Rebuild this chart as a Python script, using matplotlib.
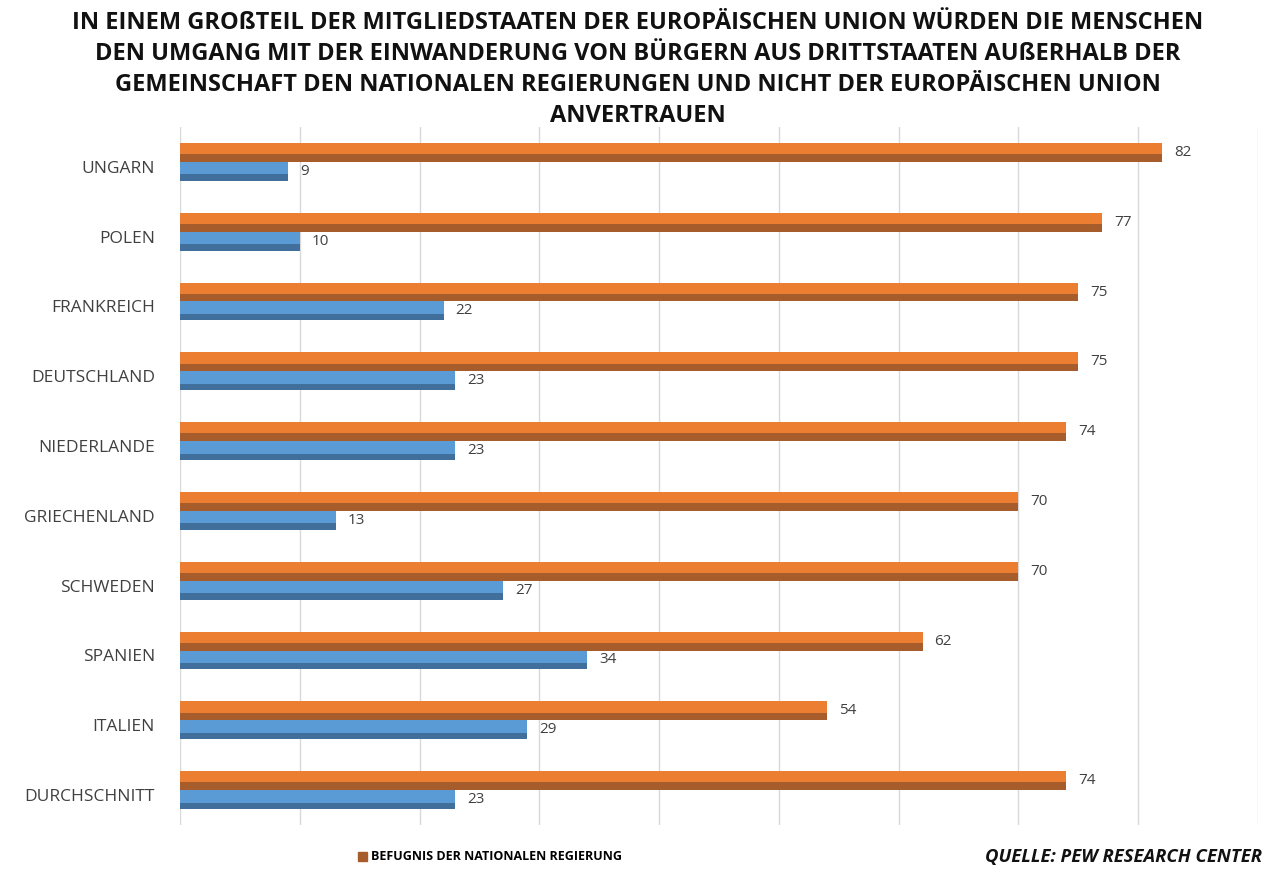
import matplotlib.pyplot as plt
import numpy as np

# Daten (Pew Research Center)
countries = ["UNGARN", "POLEN", "FRANKREICH", "DEUTSCHLAND", "NIEDERLANDE",
             "GRIECHENLAND", "SCHWEDEN", "SPANIEN", "ITALIEN", "DURCHSCHNITT"]
national = [82, 77, 75, 75, 74, 70, 70, 62, 54, 74]
eu = [9, 10, 22, 23, 23, 13, 27, 34, 29, 23]

title = ("IN EINEM GROßTEIL DER MITGLIEDSTAATEN DER EUROPÄISCHEN UNION WÜRDEN DIE MENSCHEN\n"
         "DEN UMGANG MIT DER EINWANDERUNG VON BÜRGERN AUS DRITTSTAATEN AUßERHALB DER\n"
         "GEMEINSCHAFT DEN NATIONALEN REGIERUNGEN UND NICHT DER EUROPÄISCHEN UNION\n"
         "ANVERTRAUEN")

plt.rcParams["font.family"] = ["Open Sans", "DejaVu Sans"]

orange, orange_dark = "#EC7E32", "#A65D2B"
blue, blue_dark = "#5B9BD5", "#416F9B"
text_col = "#404040"

fig = plt.figure(figsize=(12.75, 8.73), dpi=100)
ax = fig.add_axes([180 / 1275, 1 - 825 / 873, (1258 - 180) / 1275, (825 - 127) / 873])

y = np.arange(len(countries))
h = 0.27

# Balken mit dunklerer Unterkante (Excel-3D-Optik)
ax.barh(y - h / 2, national, height=h, color=orange, zorder=3)
ax.barh(y - 0.055, national, height=0.11, color=orange_dark, zorder=3)
ax.barh(y + h / 2, eu, height=h, color=blue, zorder=3)
ax.barh(y + h - 0.045, eu, height=0.09, color=blue_dark, zorder=3)

for i in range(len(countries)):
    ax.text(national[i] + 1.0, y[i] - h / 2, str(national[i]), va="center",
            ha="left", fontsize=11, color=text_col)
    ax.text(eu[i] + 1.0, y[i] + h / 2, str(eu[i]), va="center",
            ha="left", fontsize=11, color=text_col)

ax.set_xlim(0, 90)
ax.set_ylim(len(countries) - 0.5, -0.5)
ax.set_xticks(np.arange(0, 91, 10))
ax.set_xticklabels([])
ax.set_yticks(y + 0.07)
ax.set_yticklabels(countries, fontsize=12.5, color=text_col)
ax.tick_params(length=0, pad=18)
ax.grid(axis="x", color="#D9D9D9", linewidth=1, zorder=0)
for s in ax.spines.values():
    s.set_visible(False)

fig.text(0.5, 1 - 11 / 873, title, ha="center", va="top", fontsize=17,
         fontweight="bold", color="#111111", linespacing=1.38)

handle = plt.Rectangle((0, 0), 1, 1, color=orange_dark)
fig.legend([handle], ["BEFUGNIS DER NATIONALEN REGIERUNG"], loc="center",
           bbox_to_anchor=(490 / 1275, 1 - 857 / 873), frameon=False,
           handlelength=0.7, handleheight=0.7, handletextpad=0.35,
           prop={"size": 9, "weight": "bold"})
fig.text(1262 / 1275, 1 - 857 / 873, "QUELLE: PEW RESEARCH CENTER", ha="right",
         va="center", fontsize=13.3, fontweight="bold", style="italic",
         color="#111111")

fig.savefig("out.png", dpi=100)
